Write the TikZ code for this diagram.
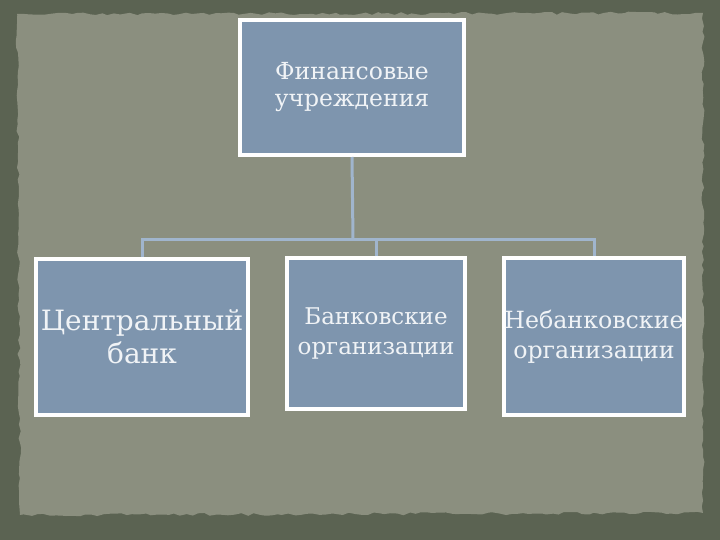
\documentclass[tikz,border=0pt]{standalone}
\usepackage{fontspec}
\setmainfont{DejaVu Serif}
\usetikzlibrary{decorations.pathmorphing}
\definecolor{slate}{RGB}{91,99,82}
\definecolor{paper}{RGB}{139,143,127}
\definecolor{boxblue}{RGB}{126,149,174}
\definecolor{linkblue}{RGB}{160,181,205}
\definecolor{txtwhite}{RGB}{240,243,246}

\begin{document}
\begin{tikzpicture}[x=1pt, y=-1pt,
    unit/.style = {draw=white, line width=4pt, fill=boxblue, text=txtwhite,
                   align=center, inner sep=0pt},
    link/.style = {linkblue, line width=3pt}]
        \pgfmathsetseed{11}
        \useasboundingbox (0,0) rectangle (720,540);
        \fill[slate] (0,0) rectangle (720,540);
        \fill[paper, decorate, decoration={random steps, segment length=6pt, amplitude=1.5pt}]
            (17,14) -- (703,13) -- (703,513) -- (20,515) -- cycle;
        % boxes
        \node[unit, minimum width=224pt, minimum height=135pt,
              font=\fontsize{23.5}{27}\selectfont] (fin) at (352,87.5) {Финансовые\\учреждения};
        \node[unit, minimum width=212pt, minimum height=156pt,
              font=\fontsize{28}{33}\selectfont] (cb) at (142,337) {Центральный\\банк};
        \node[unit, minimum width=178pt, minimum height=151pt,
              font=\fontsize{23}{30}\selectfont] (bo) at (376,333.5) {Банковские\\организации};
        \node[unit, minimum width=180pt, minimum height=157pt,
              font=\fontsize{23.7}{30}\selectfont] (nbo) at (594,336.5) {Небанковские\\организации};
        % connectors
        \coordinate (hub) at (353,239);
        \draw[link] (fin.south) -- (hub);
        \draw[link] (cb.north) |- (hub) -| (nbo.north);
        \draw[link] (bo.north) -- (bo.north |- hub);
    \end{tikzpicture}
\end{document}
